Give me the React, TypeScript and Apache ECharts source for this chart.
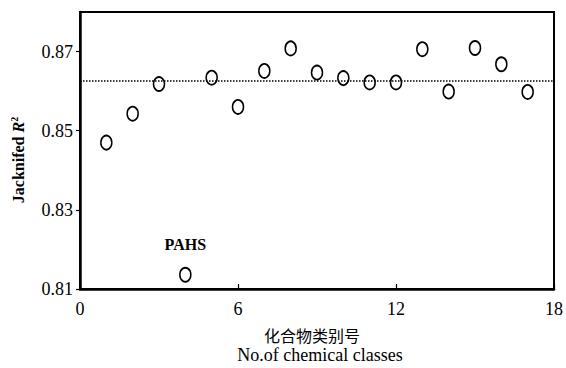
import React, { useEffect, useRef } from "react";
import * as echarts from "echarts";

const classNumbers = [1, 2, 3, 4, 5, 6, 7, 8, 9, 10, 11, 12, 13, 14, 15, 16, 17];
const jackknifedR2 = [
  0.847, 0.8543, 0.8618, 0.8136, 0.8634, 0.856, 0.8651, 0.8708, 0.8647,
  0.8633, 0.8622, 0.8622, 0.8706, 0.8599, 0.8709, 0.8668, 0.8598,
];
const meanR2 = 0.8626;
const outlierIndex = 3;
const outlierLabel = "PAHS";
const yTickLabels = ["0.81", "0.83", "0.85", "0.87"];
const xTickLabels = ["0", "6", "12", "18"];
const xNameCn = "化合物类别号";
const xNameEn = "No.of chemical classes";

const SERIF = "'Liberation Serif', 'DejaVu Serif', serif";

export default function App() {
  const ref = useRef<HTMLDivElement>(null);
  useEffect(() => {
    if (!ref.current) return;
    const chart = echarts.init(ref.current, null, { renderer: "svg" });
    const data = classNumbers.map((x, i) => {
      const item: any = { value: [x, jackknifedR2[i]] };
      if (i === outlierIndex) {
        item.label = {
          show: true,
          formatter: outlierLabel,
          position: "top",
          distance: 14,
          fontFamily: SERIF,
          fontWeight: "bold",
          fontSize: 16,
          color: "#000",
        };
      }
      return item;
    });
    chart.setOption({
      animation: false,
      backgroundColor: "#fff",
      grid: {
        left: 80,
        right: 11,
        top: 12,
        bottom: 79,
        show: true,
        borderColor: "#000",
        borderWidth: 2,
        backgroundColor: "transparent",
      },
      xAxis: {
        type: "value",
        min: 0,
        max: 18,
        interval: 6,
        axisLine: { show: true, onZero: false, lineStyle: { color: "#000", width: 2.5 } },
        axisTick: { show: true, inside: true, length: 5, lineStyle: { color: "#000", width: 1.2 } },
        splitLine: { show: false },
        axisLabel: {
          margin: 11,
          fontFamily: SERIF,
          fontSize: 18,
          color: "#000",
          formatter: (v: number) => (xTickLabels.includes(String(v)) ? String(v) : ""),
        },
      },
      yAxis: {
        type: "value",
        min: 0.81,
        max: 0.88,
        interval: 0.02,
        axisLine: { show: true, onZero: false, lineStyle: { color: "#000", width: 2.5 } },
        axisTick: { show: true, inside: false, length: 4, lineStyle: { color: "#000", width: 1.2 } },
        splitLine: { show: false },
        axisLabel: {
          margin: 7,
          fontFamily: SERIF,
          fontSize: 18,
          color: "#000",
          showMaxLabel: false,
          formatter: (v: number) => {
            const s = v.toFixed(2);
            return yTickLabels.includes(s) ? s : "";
          },
        },
      },
      graphic: [
        {
          type: "text",
          x: 18,
          y: 160,
          rotation: Math.PI / 2,
          style: {
            text: "{a|Jacknifed }{b|R}{c|2}",
            align: "center",
            verticalAlign: "middle",
            fill: "#000",
            rich: {
              a: { fontFamily: SERIF, fontWeight: "bold", fontSize: 16, fill: "#000" },
              b: { fontFamily: SERIF, fontWeight: "bold", fontStyle: "italic", fontSize: 16, fill: "#000" },
              c: { fontFamily: SERIF, fontWeight: "bold", fontSize: 10, fill: "#000", verticalAlign: "top", padding: [0, 0, 8, 0] },
            },
          },
        },
        {
          type: "text",
          x: 312,
          y: 335,
          style: {
            text: xNameCn,
            align: "center",
            verticalAlign: "middle",
            fontFamily: "'Noto Sans CJK SC', sans-serif",
            fontSize: 16,
            fill: "#000",
          },
        },
        {
          type: "text",
          x: 320,
          y: 355,
          style: {
            text: xNameEn,
            align: "center",
            verticalAlign: "middle",
            fontFamily: SERIF,
            fontSize: 18,
            fill: "#000",
          },
        },
      ],
      series: [
        {
          type: "scatter",
          data,
          symbol: "circle",
          symbolSize: [11, 14],
          itemStyle: { color: "#fff", borderColor: "#000", borderWidth: 1.7, opacity: 1 },
          markLine: {
            silent: true,
            precision: 4,
            symbol: ["none", "none"],
            label: { show: false },
            lineStyle: { color: "#000", type: "dotted", width: 1.5 },
            data: [{ yAxis: meanR2 }],
          },
          z: 3,
        },
      ],
    });
    return () => chart.dispose();
  }, []);
  return (
    <div
      ref={ref}
      style={{ position: "fixed", left: 0, top: 0, width: 566, height: 368, background: "#fff" }}
    />
  );
}
